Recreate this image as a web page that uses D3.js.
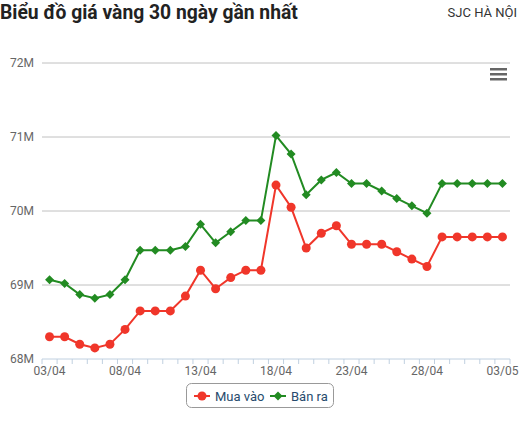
<!DOCTYPE html>
<meta charset="utf-8">
<title>Biểu đồ giá vàng</title>
<script src="https://d3js.org/d3.v7.min.js"></script>
<style>
  body { margin: 0; font-family: Roboto, "Noto Sans", sans-serif; background: #fff; }
</style>
<body>
<script>
// Data
const dates = ["03/04","04/04","05/04","06/04","07/04","08/04","09/04","10/04","11/04","12/04",
  "13/04","14/04","15/04","16/04","17/04","18/04","19/04","20/04","21/04","22/04",
  "23/04","24/04","25/04","26/04","27/04","28/04","29/04","30/04","01/05","02/05","03/05"];
const muaVao = [68.30,68.30,68.20,68.15,68.20,68.40,68.65,68.65,68.65,68.85,
  69.20,68.95,69.10,69.20,69.20,70.35,70.05,69.50,69.70,69.80,
  69.55,69.55,69.55,69.45,69.35,69.25,69.65,69.65,69.65,69.65,69.65];
const banRa = [69.07,69.02,68.87,68.82,68.87,69.07,69.47,69.47,69.47,69.52,
  69.82,69.57,69.72,69.87,69.87,71.02,70.77,70.22,70.42,70.52,
  70.37,70.37,70.27,70.17,70.07,69.97,70.37,70.37,70.37,70.37,70.37];
const yTicks = [68, 69, 70, 71, 72];
const series = [
  { name: "Mua vào", values: muaVao, color: "#f0362a", marker: "circle" },
  { name: "Bán ra", values: banRa, color: "#228b22", marker: "diamond" }
];

const width = 520, height = 423;
const margin = { top: 63, right: 10, bottom: 64, left: 42 };

const svg = d3.select("body").append("svg")
  .attr("width", width)
  .attr("height", height);

// Title
svg.append("text")
  .attr("x", 0).attr("y", 19)
  .attr("font-size", 19.3).attr("font-weight", "bold")
  .attr("fill", "#222")
  .text("Biểu đồ giá vàng 30 ngày gần nhất");

svg.append("text")
  .attr("x", 517).attr("y", 17)
  .attr("text-anchor", "end")
  .attr("font-size", 13).attr("fill", "#333")
  .text("SJC HÀ NỘI");

const x = d3.scaleBand()
  .domain(dates)
  .range([margin.left, width - margin.right]);

const y = d3.scaleLinear()
  .domain([68, 72])
  .range([height - margin.bottom, margin.top]);

// Grid
svg.append("g")
  .selectAll("line")
  .data(yTicks.filter(d => d > 68))
  .join("line")
  .attr("x1", margin.left).attr("x2", width - margin.right)
  .attr("y1", d => y(d)).attr("y2", d => y(d))
  .attr("stroke", "#c0c0c0").attr("stroke-width", 1);

// Y labels
svg.append("g")
  .selectAll("text")
  .data(yTicks)
  .join("text")
  .attr("x", 34).attr("y", d => y(d) + 4)
  .attr("text-anchor", "end")
  .attr("font-size", 12).attr("fill", "#666")
  .text(d => d + "M");

// X axis
const xAxis = svg.append("g")
  .attr("transform", `translate(0,${y(68)})`);
xAxis.append("line")
  .attr("x1", margin.left).attr("x2", width - margin.right)
  .attr("stroke", "#c0d0e0");
const tickPos = dates.map(d => x(d)).concat([x.range()[1]]);
xAxis.selectAll("line.tick")
  .data(tickPos)
  .join("line")
  .attr("class", "tick")
  .attr("x1", d => d).attr("x2", d => d)
  .attr("y1", 0).attr("y2", 5)
  .attr("stroke", "#c0d0e0");
xAxis.selectAll("text")
  .data(dates.filter((d, i) => i % 5 === 0))
  .join("text")
  .attr("x", d => x(d) + x.bandwidth() / 2)
  .attr("y", 16)
  .attr("text-anchor", "middle")
  .attr("font-size", 12).attr("fill", "#666")
  .text(d => d);

// Marker shapes: circle, and a square rotated 45deg for the diamond
function marker(sel, kind, color) {
  if (kind === "circle") {
    sel.append("circle").attr("r", 4.5).attr("fill", color);
  } else {
    sel.append("path").attr("d", "M0,-4.5L4.5,0L0,4.5L-4.5,0Z").attr("fill", color);
  }
}

// Lines and markers
const cx = i => x(dates[i]) + x.bandwidth() / 2;
const line = d3.line().x((d, i) => cx(i)).y(d => y(d));

series.forEach(s => {
  svg.append("path")
    .datum(s.values)
    .attr("fill", "none")
    .attr("stroke", s.color)
    .attr("stroke-width", 2)
    .attr("d", line);
  svg.append("g")
    .selectAll("g")
    .data(s.values)
    .join("g")
    .attr("transform", (d, i) => `translate(${cx(i)},${y(d)})`)
    .each(function() { marker(d3.select(this), s.marker, s.color); });
});

// Menu icon
svg.append("g")
  .selectAll("rect")
  .data([0, 1, 2])
  .join("rect")
  .attr("x", 490).attr("y", d => 68 + d * 5)
  .attr("width", 17).attr("height", 2.5)
  .attr("fill", "#666");

// Legend
const legend = svg.append("g");
legend.append("rect")
  .attr("x", 186.5).attr("y", 383.5)
  .attr("width", 147).attr("height", 24)
  .attr("rx", 5)
  .attr("fill", "none").attr("stroke", "#999");
const legendX = [194, 270];
series.forEach((s, i) => {
  const g = legend.append("g").attr("transform", `translate(${legendX[i]},396)`);
  g.append("line").attr("x1", 0).attr("x2", 16)
    .attr("stroke", s.color).attr("stroke-width", 2);
  marker(g.append("g").attr("transform", "translate(8,0)"), s.marker, s.color);
  g.append("text")
    .attr("x", 21).attr("y", 5)
    .attr("font-size", 13).attr("fill", "#274b6d")
    .text(s.name);
});
</script>
</body>
